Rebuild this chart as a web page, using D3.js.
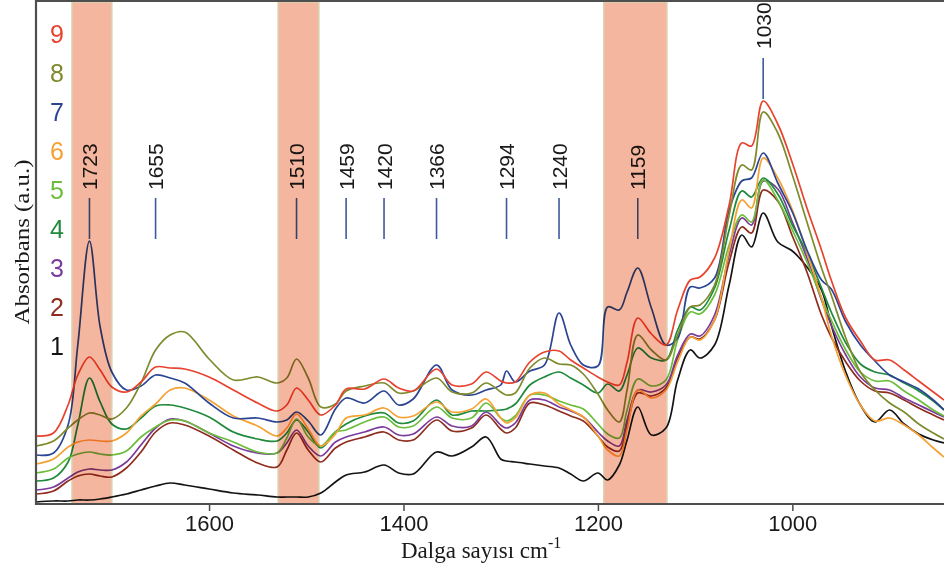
<!DOCTYPE html>
<html>
<head>
<meta charset="utf-8">
<script src="https://cdn.jsdelivr.net/npm/d3@7"></script>
<style>
    body { margin: 0; background: #ffffff; }
    svg { display: block; }
</style>
</head>
<body>
<div id="chart"></div>
<script>
"use strict";
(function(){
    // wavenumber grid (cm-1), shared by all spectra
    const wavenumbers = [1778,1760,1745,1735,1723,1712,1700,1685,1670,1655,1640,1625,1600,1575,1550,1530,1520,1510,1498,1485,1470,1459,1440,1420,1405,1390,1366,1350,1330,1315,1300,1294,1285,1270,1255,1240,1228,1215,1200,1190,1178,1170,1159,1145,1130,1118,1105,1095,1080,1065,1052,1042,1030,1015,1000,985,970,960,945,930,915,900,885,870,855,844];

    // absorbance (a.u., arbitrary scale)
    const s1 = [2,3,3,4,4,5,7,10,14,18, 21,19,15,11,9,7,7,7,7,11, 22,29,32,39,31,30,52,48,57,67, 45,43,42,40,38,36,30,23,31,24, 39,64,97,69,76,124,154,146,159,219, 269,257,291,262,253,237,214,179,132,99, 82,94,80,70,64,61];
    const s2 = [10,13,23,28,30,28,27,36,52,72, 81,79,68,54,41,37,54,71,54,42, 56,62,67,72,64,64,84,73,76,89, 75,71,76,101,99,93,88,83,68,57, 53,79,111,108,116,146,167,165,184,242, 277,271,314,303,268,232,189,167,142,123, 113,111,104,96,89,84];
    const s3 = [14,17,26,32,35,34,34,42,59,76, 85,83,71,58,51,51,61,74,58,48, 62,67,72,77,69,70,87,78,78,92, 79,76,81,104,104,97,93,87,72,63, 58,84,114,112,119,149,170,168,189,249, 286,279,323,315,282,246,204,179,149,127, 116,114,106,99,92,87];
    const s4 = [23,26,42,79,126,102,80,75,86,98, 99,96,87,72,65,63,71,84,72,56, 72,80,88,91,81,83,104,89,93,93, 94,95,100,119,127,132,126,119,111,120, 113,129,156,146,144,174,197,194,216,274, 313,307,326,310,279,251,216,192,161,140, 132,129,121,113,103,94];
    const s5 = [31,35,46,50,52,50,49,53,67,77, 84,83,71,62,52,51,66,85,67,58, 72,74,82,87,77,78,97,86,86,101, 86,83,88,109,109,103,99,95,80,70, 66,94,125,118,124,164,192,190,209,259, 289,282,324,304,274,242,206,184,154,132, 123,123,113,104,94,88];
    const s6 = [40,45,57,62,64,63,63,71,88,100, 114,116,104,88,78,68,76,90,75,58, 70,86,89,96,87,88,102,92,95,105, 86,81,86,109,111,100,94,87,68,54, 48,74,114,106,114,142,167,164,184,254, 304,296,346,326,294,252,206,169,128,99, 83,86,79,69,56,47];
    const s7 = [49,51,79,159,263,177,132,114,118,129, 126,121,101,86,86,82,84,92,83,69, 95,106,101,113,99,105,139,114,109,114, 119,133,122,133,139,191,159,139,138,197, 194,212,236,196,159,166,217,216,226,294, 323,326,351,321,292,254,224,215,182,159, 143,129,122,115,104,94];
    const s8 = [58,63,76,84,91,89,85,96,121,154, 169,172,145,124,127,121,126,145,126,97, 100,113,118,121,111,113,126,112,111,121, 112,109,111,136,146,140,139,130,110,94, 82,114,169,154,144,169,197,199,219,289, 339,334,392,371,329,282,236,209,166,132, 114,101,92,80,71,65];
    const s9 = [68,71,99,129,147,134,117,112,122,137, 136,135,127,114,101,93,99,116,104,89, 99,115,115,125,116,113,135,119,120,132, 123,121,122,142,152,153,144,136,127,122, 119,142,186,170,159,194,224,227,246,299, 361,358,403,380,341,296,254,224,186,163, 144,144,134,123,112,104];

    const seriesNames = ["1", "2", "3", "4", "5", "6", "7", "8", "9"];
    const seriesValues = [s1, s2, s3, s4, s5, s6, s7, s8, s9];
    const colorList = ["#141414", "#8e2c1e", "#7b3b9b", "#1f8a3c", "#6cbd3a", "#f5a234", "#2c4592", "#7f8a2c", "#e8432e"];

    const peakLabels = [1723, 1655, 1510, 1459, 1420, 1366, 1294, 1240, 1159, 1030];
    const raisedPeaks = [1030];
    const bandRanges = [[1741, 1700], [1529, 1487], [1194, 1129]];
    const xTicks = [1600, 1400, 1200, 1000];
    const xDomain = [1778, 844];
    const yDomain = [0, 500];

    const color = d3.scaleOrdinal().domain(seriesNames).range(colorList);

    // dimensions for svg
    const measurements = {
        width: 944,
        height: 579,
        left: 36,
        right: 944,
        top: 4,
        bottom: 504
    }

    const svgContainer = d3.select("#chart").append("svg")
        .attr("width", measurements.width)
        .attr("height", measurements.height);

    const scaleX = d3.scaleLinear()
        .domain(xDomain)
        .range([measurements.left, measurements.right]);

    const scaleY = d3.scaleLinear()
        .domain(yDomain)
        .range([measurements.bottom, measurements.top]);

    plotData();
    drawPeaks();
    drawBands();
    drawAxes();
    makeLegend();

    function plotData() {
        const line = d3.line()
            .x(function(d, i) { return scaleX(wavenumbers[i]) })
            .y(function(d) { return scaleY(d) })
            .curve(d3.curveCatmullRom.alpha(0.5));

        svgContainer.append("g")
            .selectAll("path")
            .data(seriesValues)
            .enter()
            .append("path")
                .attr("d", line)
                .attr("fill", "none")
                .attr("stroke", function(d, i) { return color(seriesNames[i]) })
                .attr("stroke-width", 1.7)
                .attr("stroke-linejoin", "round");
    }

    function drawPeaks() {
        const g = svgContainer.append("g");
        const marks = g.selectAll(".peak")
            .data(peakLabels)
            .enter()
            .append("g")
            .attr("class", "peak");

        marks.append("line")
            .attr("x1", function(d) { return scaleX(d) })
            .attr("x2", function(d) { return scaleX(d) })
            .attr("y1", function(d) { return raisedPeaks.includes(d) ? 58 : 198 })
            .attr("y2", function(d) { return raisedPeaks.includes(d) ? 99 : 239 })
            .attr("stroke", "#3d5a9c")
            .attr("stroke-width", 1.6);

        marks.append("text")
            .attr("transform", function(d) {
                const y = raisedPeaks.includes(d) ? 49 : 190;
                return "translate(" + (scaleX(d) + 7.5) + "," + y + ") rotate(-90)";
            })
            .style("text-anchor", "start")
            .style("font-family", "'Liberation Sans', Arial, sans-serif")
            .style("font-size", "21px")
            .attr("fill", "#1a1a1a")
            .text(function(d) { return d });
    }

    function drawBands() {
        // shaded regions sit on top of the spectra and tint them
        svgContainer.append("g")
            .selectAll("rect")
            .data(bandRanges)
            .enter()
            .append("rect")
                .attr("x", function(d) { return scaleX(d[0]) })
                .attr("width", function(d) { return scaleX(d[1]) - scaleX(d[0]) })
                .attr("y", 2)
                .attr("height", measurements.bottom - 2)
                .attr("fill", "#f4b69e")
                .attr("stroke", "#d9d3b3")
                .attr("stroke-width", 1.5)
                .style("mix-blend-mode", "multiply");
    }

    function drawAxes() {
        const xAxis = d3.axisBottom(scaleX)
            .tickValues(xTicks)
            .tickSize(7)
            .tickPadding(4)
            .tickFormat(d3.format("d"));

        const ax = svgContainer.append("g")
            .attr("transform", "translate(0," + measurements.bottom + ")")
            .call(xAxis);
        ax.select(".domain").remove();
        ax.selectAll(".tick line").attr("stroke", "#4a4a4a").attr("stroke-width", 1.5);
        ax.selectAll(".tick text")
            .attr("fill", "#1a1a1a")
            .style("font-family", "'Liberation Sans', Arial, sans-serif")
            .style("font-size", "22px");

        // frame: bottom, left and top
        svgContainer.append("path")
            .attr("d", "M" + measurements.right + "," + measurements.bottom +
                "H" + measurements.left + "V1H" + measurements.right)
            .attr("fill", "none")
            .attr("stroke", "#4f4f4f")
            .attr("stroke-width", 2.2);

        const xLabel = svgContainer.append("text")
            .attr("x", 401)
            .attr("y", 558)
            .style("font-family", "'Liberation Serif', 'Times New Roman', serif")
            .style("font-size", "23px")
            .attr("fill", "#1a1a1a");
        xLabel.append("tspan").text("Dalga sayısı cm");
        xLabel.append("tspan")
            .attr("dy", -10)
            .style("font-size", "16px")
            .text("-1");

        svgContainer.append("text")
            .attr("transform", "translate(29,242) rotate(-90)")
            .style("text-anchor", "middle")
            .style("font-family", "'Liberation Serif', 'Times New Roman', serif")
            .style("font-size", "22px")
            .attr("fill", "#1a1a1a")
            .attr("textLength", 165)
            .attr("lengthAdjust", "spacingAndGlyphs")
            .text("Absorbans (a.u.)");
    }

    function makeLegend() {
        const order = seriesNames.slice().reverse();
        svgContainer.append("g")
            .selectAll("text")
            .data(order)
            .enter()
            .append("text")
                .attr("x", 57)
                .attr("y", function(d, i) { return 43 + i * 39 })
                .style("text-anchor", "middle")
                .style("font-family", "'Liberation Sans', Arial, sans-serif")
                .style("font-size", "25px")
                .attr("fill", color)
                .text(function(d) { return d });
    }
})()
</script>
</body>
</html>
